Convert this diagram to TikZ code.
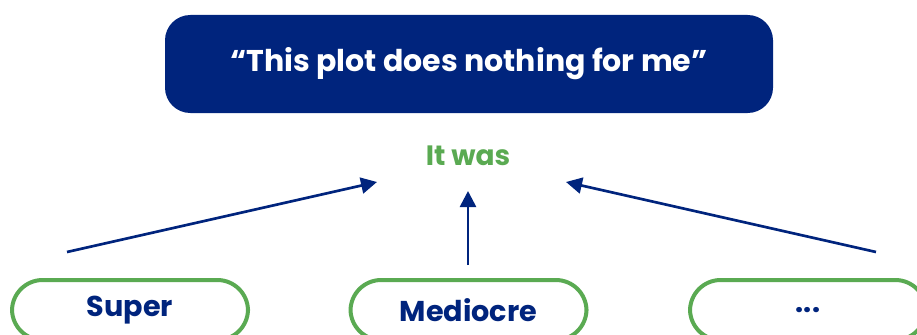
\documentclass[tikz,border=0pt]{standalone}
\usepackage{fontspec}
\setmainfont{Poppins}
\usepackage{tikz}
\usetikzlibrary{arrows.meta}
\definecolor{navy}{RGB}{0,36,125}
\definecolor{leaf}{RGB}{90,170,82}
\tikzset{
  quotebox/.style={fill=navy, rounded corners=19pt, minimum width=456pt, minimum height=73.5pt, text=white, font=\fontsize{22.5}{26}\selectfont\bfseries},
  choice/.style={draw=leaf, line width=3pt, fill=white, rounded corners=23pt, minimum width=177pt, minimum height=45pt, text=navy, font=\fontsize{21.5}{25}\selectfont\bfseries},
  link/.style={-{Triangle[length=12pt,width=12pt]}, draw=navy, line width=2pt}
}
\begin{document}
\begin{tikzpicture}[x=0.75pt,y=-0.75pt]
\useasboundingbox (0,0) rectangle (917,335);
\clip (0,0) rectangle (917,335);
\node[quotebox] (quote) at (469,64) {“This plot does nothing for me”};
\node[text=leaf, font=\fontsize{21}{25}\selectfont\bfseries] (itwas) at (468,156) {It was};
\node[choice] (super) at (130,310) {Super};
\node[choice] (mediocre) at (468.5,310) {Mediocre};
\node[choice] (more) at (808,310) {...};
\coordinate (s1) at (67,252);
\coordinate (s2) at (468,265);
\coordinate (s3) at (876,252);
\coordinate (e1) at (377,182);
\coordinate (e2) at (468,191);
\coordinate (e3) at (566,182);
 \draw[link] (s1) -- (e1);
 \draw[link] (s2) -- (e2);
 \draw[link] (s3) -- (e3);
\end{tikzpicture}
\end{document}
